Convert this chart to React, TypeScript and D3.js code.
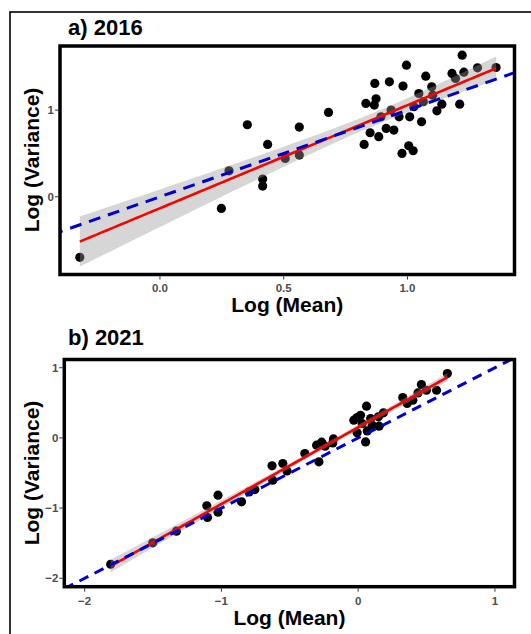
import React, { useEffect, useRef } from "react";
import * as d3 from "d3";

// a) 2016 -- log mean vs log variance, one value per site
const meanA = [-0.324, 0.248, 0.279, 0.353, 0.415, 0.415, 0.435, 0.506, 0.563, 0.563,
  0.681, 0.825, 0.832, 0.849, 0.868, 0.873, 0.866, 0.884, 0.893, 0.914,
  0.927, 0.934, 0.945, 0.966, 0.978, 0.982, 0.996, 1.005, 1.009, 1.023,
  1.026, 1.046, 1.057, 1.064, 1.074, 1.098, 1.102, 1.119, 1.139, 1.180,
  1.194, 1.211, 1.221, 1.228, 1.283, 1.358];
const varA = [-0.699, -0.134, 0.300, 0.831, 0.204, 0.123, 0.604, 0.443, 0.804, 0.481,
  0.973, 0.604, 1.077, 0.739, 1.308, 1.131, 1.058, 0.693, 0.923, 0.789,
  1.327, 1.000, 0.770, 0.923, 0.500, 1.277, 1.519, 0.589, 0.923, 0.531,
  1.039, 1.192, 0.866, 1.097, 1.392, 1.269, 1.173, 0.992, 1.069, 1.423,
  1.365, 1.069, 1.634, 1.438, 1.488, 1.492];

// b) 2021
const meanB = [-1.810, -1.502, -1.329, -1.107, -1.102, -1.025, -1.025, -0.853, -0.798, -0.756,
  -0.630, -0.625, -0.551, -0.521, -0.390, -0.304, -0.287, -0.267, -0.242, -0.181,
  -0.186, -0.008, -0.008, 0.029, 0.061, 0.054, 0.066, 0.091, 0.103, 0.153,
  0.148, 0.185, 0.326, 0.358, 0.400, 0.462, 0.437, 0.499, 0.573, 0.652,
  -0.032, 0.017];
const varB = [-1.800, -1.495, -1.329, -0.968, -1.134, -0.816, -1.058, -0.911, -0.769, -0.736,
  -0.398, -0.603, -0.365, -0.470, -0.223, -0.104, -0.341, -0.061, -0.118, -0.014,
  -0.071, 0.290, 0.072, 0.205, 0.452, -0.057, 0.100, 0.276, 0.181, 0.167,
  0.300, 0.357, 0.575, 0.490, 0.537, 0.760, 0.641, 0.679, 0.679, 0.916,
  0.252, 0.323];

const ticksAx = [0, 0.5, 1];
const ticksAy = [0, 1];
const ticksB = [-2, -1, 0, 1];

const FONT = "'Liberation Sans', Arial, sans-serif";

// ordinary least squares + 95% band, like geom_smooth(method = "lm")
function lmFit(xs: number[], ys: number[]) {
  const n = xs.length;
  const mx = d3.mean(xs)!, my = d3.mean(ys)!;
  let sxx = 0, sxy = 0;
  xs.forEach((x, i) => { sxx += (x - mx) ** 2; sxy += (x - mx) * (ys[i] - my); });
  const b = sxy / sxx, a = my - b * mx;
  let sse = 0;
  xs.forEach((x, i) => { sse += (ys[i] - a - b * x) ** 2; });
  const s = Math.sqrt(sse / (n - 2));
  const df = n - 2, z = 1.96;
  const t = z + (z ** 3 + z) / (4 * df);
  const [x0, x1] = d3.extent(xs) as [number, number];
  const pts = d3.range(0, 81).map(k => {
    const x = x0 + (x1 - x0) * k / 80;
    const yh = a + b * x;
    const se = s * Math.sqrt(1 / n + (x - mx) ** 2 / sxx);
    return { x, y: yh, lo: yh - t * se, hi: yh + t * se };
  });
  return pts;
}

function drawPanel(svg: any, o: any) {
  const x = d3.scaleLinear().domain(o.xDomain).range([o.left, o.right]);
  const y = d3.scaleLinear().domain(o.yDomain).range([o.bottom, o.top]);
  const g = svg.append("g");

  g.append("clipPath").attr("id", o.id)
    .append("rect").attr("x", o.left).attr("y", o.top)
    .attr("width", o.right - o.left).attr("height", o.bottom - o.top);

  const plot = g.append("g").attr("clip-path", `url(#${o.id})`);

  plot.selectAll("circle").data(o.xs).join("circle")
    .attr("cx", (d: number) => x(d))
    .attr("cy", (d: number, i: number) => y(o.ys[i]))
    .attr("r", 4.6)
    .attr("fill", "black");

  const fit = lmFit(o.xs, o.ys);
  plot.append("path")
    .attr("d", d3.area<any>().x(d => x(d.x)).y0(d => y(d.lo)).y1(d => y(d.hi))(fit))
    .attr("fill", "#999999").attr("fill-opacity", 0.4);
  plot.append("path")
    .attr("d", d3.line<any>().x(d => x(d.x)).y(d => y(d.y))(fit))
    .attr("fill", "none").attr("stroke", "#ff0000").attr("stroke-width", 2.6);

  // 1:1 reference line
  const lo = Math.min(o.xDomain[0], o.yDomain[0]), hi = Math.max(o.xDomain[1], o.yDomain[1]);
  plot.append("line")
    .attr("x1", x(lo)).attr("y1", y(lo)).attr("x2", x(hi)).attr("y2", y(hi))
    .attr("stroke", "#0000cc").attr("stroke-width", 3)
    .attr("stroke-dasharray", o.dash);

  g.append("rect")
    .attr("x", o.left).attr("y", o.top)
    .attr("width", o.right - o.left).attr("height", o.bottom - o.top)
    .attr("fill", "none").attr("stroke", "black").attr("stroke-width", 3.5);

  // x ticks
  g.selectAll(".xt").data(o.xTicks).join("line")
    .attr("x1", (d: number) => x(d)).attr("x2", (d: number) => x(d))
    .attr("y1", o.bottom + 1.7).attr("y2", o.bottom + 5)
    .attr("stroke", "#333").attr("stroke-width", 1);
  g.selectAll(".xl").data(o.xTicks).join("text")
    .attr("x", (d: number) => x(d)).attr("y", o.xLabY)
    .attr("text-anchor", "middle")
    .attr("font-family", FONT).attr("font-size", 11.5).attr("font-weight", "bold")
    .attr("fill", "#4d4d4d")
    .text((d: number) => o.xFmt(d));

  // y ticks
  g.selectAll(".yt").data(o.yTicks).join("line")
    .attr("y1", (d: number) => y(d)).attr("y2", (d: number) => y(d))
    .attr("x1", o.left - 1.7).attr("x2", o.left - 5)
    .attr("stroke", "#333").attr("stroke-width", 1);
  g.selectAll(".yl").data(o.yTicks).join("text")
    .attr("x", o.left - 6).attr("y", (d: number) => y(d))
    .attr("dy", "0.36em")
    .attr("text-anchor", "end")
    .attr("font-family", FONT).attr("font-size", 11.5).attr("font-weight", "bold")
    .attr("fill", "#4d4d4d")
    .text((d: number) => d3.format("d")(d));

  g.append("text").attr("x", 68).attr("y", o.titleY)
    .attr("font-family", FONT).attr("font-size", 22).attr("font-weight", "bold")
    .text(o.title);

  g.append("text").attr("x", (o.left + o.right) / 2).attr("y", o.xTitleY)
    .attr("text-anchor", "middle")
    .attr("font-family", FONT).attr("font-size", 21).attr("font-weight", "bold")
    .text("Log (Mean)");

  g.append("text")
    .attr("transform", `translate(39,${o.yTitleMid}) rotate(-90)`)
    .attr("text-anchor", "middle")
    .attr("font-family", FONT).attr("font-size", 21).attr("font-weight", "bold")
    .text("Log (Variance)");
}

export default function App() {
  const ref = useRef<SVGSVGElement>(null);

  useEffect(() => {
    const svg = d3.select(ref.current);
    svg.selectAll("*").remove();

    // outer figure frame (runs off the right and bottom edges)
    svg.append("rect").attr("x", 10).attr("y", 12)
      .attr("width", 540).attr("height", 650)
      .attr("fill", "none").attr("stroke", "black").attr("stroke-width", 1.6);

    drawPanel(svg, {
      id: "clipA", title: "a) 2016", xs: meanA, ys: varA,
      left: 60, right: 514.5, top: 46, bottom: 274.5,
      xDomain: [-0.404, 1.4325], yDomain: [-0.897, 1.74],
      xTicks: ticksAx, yTicks: ticksAy, xFmt: d3.format(".1f"),
      xLabY: 291.5, titleY: 35, xTitleY: 312, yTitleMid: 160, dash: "12 8",
    });

    drawPanel(svg, {
      id: "clipB", title: "b) 2021", xs: meanB, ys: varB,
      left: 64.3, right: 514.5, top: 359.5, bottom: 586.7,
      xDomain: [-2.149, 1.143], yDomain: [-2.12, 1.117],
      xTicks: ticksB, yTicks: ticksB, xFmt: d3.format("d"),
      xLabY: 605, titleY: 345, xTitleY: 625, yTitleMid: 473, dash: "10 7",
    });
  }, []);

  return (
    <svg ref={ref} width={531} height={634}
      style={{ position: "absolute", left: 0, top: 0, background: "white" }} />
  );
}
